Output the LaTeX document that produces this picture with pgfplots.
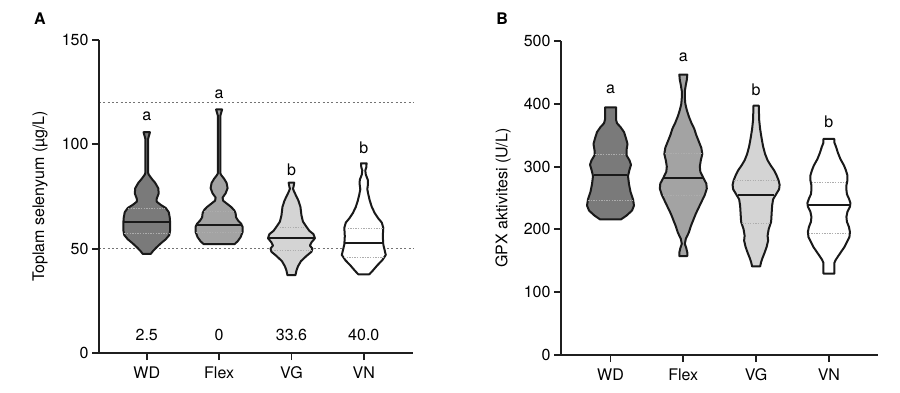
\documentclass[border=0pt]{standalone}
\usepackage{pgfplots}
\pgfplotsset{compat=1.18}
\usepackage{pgfplotstable}
\usepgfplotslibrary{fillbetween}
\usepackage{fontspec}
\setmainfont{TeX Gyre Heros}
\definecolor{cWD}{RGB}{122,122,122}
\definecolor{cFlex}{RGB}{163,163,163}
\definecolor{cVG}{RGB}{212,212,212}
\definecolor{cVN}{RGB}{255,255,255}

% violin outlines: y value, half width (px)
\pgfplotstableread{
y w
47.5 4
49 6.5
50.5 9.5
52.5 14
54.5 19
56.5 22.5
59 23.5
62 23.5
65 23
67.5 22
69.5 19
71 14
72.5 10
74 10
76.5 12
79 11.5
81.5 8.5
83.5 5
85.5 2
86.5 1.3
102.5 1.3
105.8 3.2
}\AWD
\pgfplotstableread{
y w
52.2 15.5
53.5 18.5
55.5 21.5
58 23.5
60.5 23.5
62 22
63.5 19
65 17
67 16.5
68.5 15
70 12
71.5 8
73 4
74.5 3.5
76.5 6.5
79 8.5
81.5 7.5
83.5 5
85 2.5
86 1.3
113.8 1.3
116.7 3
}\AFlex
\pgfplotstableread{
y w
37.3 4
39.5 5
41.5 6.5
44 9.5
46.5 15
48.5 20
50 21
51.5 18.5
53 20
55 23.5
57 22
58.5 18
60.5 15
63 11.5
66 10
70 9
73 7
75.5 4.5
77.5 2.5
78.8 1.5
79.5 2
81.6 2.8
}\AVG
\pgfplotstableread{
y w
37.7 5.5
39.5 9
42 13.5
44.5 18.5
47 22
49 21
52 19.5
56 19
60 19.5
62.5 18
64.5 14.5
67 11
70 8
73 6
76 4.5
78.5 3.5
81 4.2
83 4
85.5 2
87.5 1.5
89 2.5
90.9 2.8
}\AVN
\pgfplotstableread{
y w
216 10.5
222 16
230 21.5
238 23.5
248 22.5
260 20
272 18.5
285 17.5
295 19
303 20.5
310 19
318 16
326 16
336 17
345 15.5
355 13.5
363 10
369 6.5
375 5.5
394.5 5.5
}\BWD
\pgfplotstableread{
y w
157.5 4
163 4
170 3
177 1.5
185 2.5
195 5.5
205 7.5
215 10
225 12.5
235 15.5
245 18.5
255 21.5
265 23.5
273 23
282 20
292 17
300 16.5
310 17.5
320 19
330 18
340 15.5
350 13
360 11
370 8
380 5.5
390 3.5
400 2
410 1.5
420 1.5
430 2.5
438 3.5
446.5 4
}\BFlex
\pgfplotstableread{
y w
141 4
148 5
155 6.5
163 8.5
172 10.5
182 12
190 11.5
200 12.5
212 15
225 15.5
238 16
248 17
256 20
264 23
271 23.5
278 22.5
286 20.5
294 18
302 14.5
310 11.5
320 9
332 7
345 5.5
360 4
375 3
390 2.8
397 2.8
}\BVG
\pgfplotstableread{
y w
129.5 5.5
140 5.5
147 5.5
152 7
158 9.5
165 12.5
172 15.5
180 18
188 20.5
196 21
204 20
212 18
220 17.5
228 18.5
236 21
242 21.5
249 20
256 18
263 17.5
270 17.5
278 18.5
286 18.5
294 17
302 15
312 11.5
322 9
332 7
338 5.5
344 5.5
}\BVN

\newcommand{\violin}[5]{%
  \addplot[draw=none, name path=#5l] table[x expr=#2-\thisrow{w}/#3, y=y]{#1};
  \addplot[draw=none, name path=#5r] table[x expr=#2+\thisrow{w}/#3, y=y]{#1};
  \addplot[fill=#4, draw=black!90, line width=2pt, line join=round] fill between[of=#5l and #5r, reverse=true];
}

\newcommand{\fnt}{\fontsize{16}{19}\selectfont}

\pgfplotsset{
  violinax/.style={
    scale only axis, anchor=south west,
    axis x line*=bottom, axis y line*=left,
    axis line style={line width=1.9pt, black!88},
    tick style={line width=1.9pt, black!88},
    major tick length=7pt, tick align=outside,
    xtick={1,2,3,4}, xticklabels={WD,Flex,VG,VN},
    font=\fnt,
    tick label style={font=\fnt},
    xticklabel style={yshift=-3pt},
    label style={font=\fnt},
    /pgf/number format/assume math mode=true,
    clip=false,
  },
  med/.style={black!90, line width=2pt},
  qrt/.style={black!32, line width=0.9pt, dash pattern=on 1.3pt off 1.3pt},
}

\begin{document}
\begin{tikzpicture}
\path (0,0) rectangle (900pt,392pt);
% ---------- Panel A
\begin{axis}[violinax,
  at={(99pt,39pt)}, width=314pt, height=313pt,
  xmin=0.34, xmax=4.68, ymin=0, ymax=150,
  ytick={0,50,100,150},
  extra y ticks={50,120}, extra y tick labels={,},
  extra y tick style={grid=major, major tick length=0pt,
     major grid style={black!55, line width=1.5pt, dash pattern=on 2pt off 2.3pt}},
  ylabel={Toplam selenyum (µg/L)},
  ylabel style={at={(axis description cs:-0.188,0.5)}, anchor=center},
  title={\bfseries A}, title style={at={(axis description cs:-0.188,1.048)}, anchor=center, font=\fnt},
]
\violin{\AWD}{1}{72.4}{cWD}{awd}
\violin{\AFlex}{2}{72.4}{cFlex}{afl}
\violin{\AVG}{3}{72.4}{cVG}{avg}
\violin{\AVN}{4}{72.4}{cVN}{avn}
\addplot[qrt] coordinates {(0.741,69.1) (1.259,69.1)};
\addplot[qrt] coordinates {(0.692,57.2) (1.308,57.2)};
\addplot[med] coordinates {(0.692,63) (1.308,63)};
\addplot[qrt] coordinates {(1.796,68) (2.204,68)};
\addplot[qrt] coordinates {(1.685,58) (2.315,58)};
\addplot[med] coordinates {(1.692,61.2) (2.308,61.2)};
\addplot[qrt] coordinates {(2.803,60.4) (3.197,60.4)};
\addplot[qrt] coordinates {(2.727,49) (3.273,49)};
\addplot[med] coordinates {(2.685,55.3) (3.315,55.3)};
\addplot[qrt] coordinates {(3.741,59.7) (4.259,59.7)};
\addplot[qrt] coordinates {(3.727,45.7) (4.273,45.7)};
\addplot[med] coordinates {(3.741,52.5) (4.259,52.5)};
\node at (axis cs:1,113.2) {a};
\node at (axis cs:2,123.9) {a};
\node at (axis cs:3,88) {b};
\node at (axis cs:4,98.4) {b};
\node at (axis cs:1,8.6) {2.5};
\node at (axis cs:2,8.6) {0};
\node at (axis cs:3,8.6) {33.6};
\node at (axis cs:4,8.6) {40.0};
\end{axis}
% ---------- Panel B
\begin{axis}[violinax,
  at={(561pt,37pt)}, width=316.7pt, height=314pt,
  xmin=0.32, xmax=4.67, ymin=0, ymax=500,
  ytick={0,100,200,300,400,500},
  ylabel={GPX aktivitesi (U/L)},
  ylabel style={at={(axis description cs:-0.183,0.5)}, anchor=center},
  title={\bfseries B}, title style={at={(axis description cs:-0.186,1.052)}, anchor=center, font=\fnt},
]
\violin{\BWD}{1}{72.8}{cWD}{bwd}
\violin{\BFlex}{2}{72.8}{cFlex}{bfl}
\violin{\BVG}{3}{72.8}{cVG}{bvg}
\violin{\BVN}{4}{72.8}{cVN}{bvn}
\addplot[qrt] coordinates {(0.790,319) (1.210,319)};
\addplot[qrt] coordinates {(0.694,246) (1.306,246)};
\addplot[med] coordinates {(0.770,286) (1.230,286)};
\addplot[qrt] coordinates {(1.749,321) (2.251,321)};
\addplot[qrt] coordinates {(1.715,254) (2.285,254)};
\addplot[med] coordinates {(1.728,281.5) (2.272,281.5)};
\addplot[qrt] coordinates {(2.701,278) (3.299,278)};
\addplot[qrt] coordinates {(2.811,210) (3.189,210)};
\addplot[med] coordinates {(2.749,254) (3.251,254)};
\addplot[qrt] coordinates {(3.763,274) (4.237,274)};
\addplot[qrt] coordinates {(3.722,193) (4.278,193)};
\addplot[med] coordinates {(3.717,239) (4.283,239)};
\node at (axis cs:1,422.5) {a};
\node at (axis cs:2,474.5) {a};
\node at (axis cs:3,422.5) {b};
\node at (axis cs:4,372) {b};
\end{axis}
\end{tikzpicture}
\end{document}
